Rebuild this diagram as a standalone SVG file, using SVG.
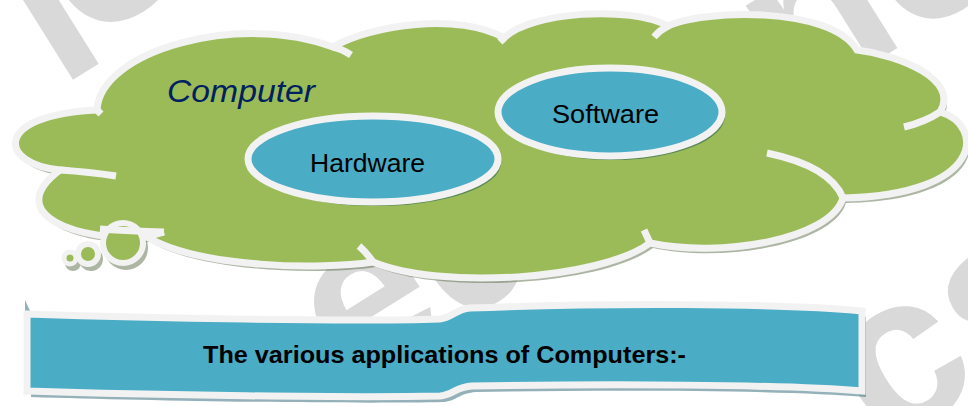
<svg xmlns="http://www.w3.org/2000/svg" width="968" height="406" viewBox="0 0 968 406">
<defs>
<style>
.wm{font-family:"Liberation Sans",Arial,sans-serif;font-weight:bold;font-size:220px;fill:#d9d9d9}
.ol{fill:none;stroke:#f2f2f2;stroke-width:7;stroke-linecap:butt}
.cloud{fill:#9bbb59;stroke:#f2f2f2;stroke-width:7;stroke-linejoin:miter}
.cshadow{fill:#5b6b47;opacity:0.5}
.oval{fill:#4bacc6;stroke:#f2f2f2;stroke-width:7}
.oshadow{fill:#4a7a55;opacity:0.8}
.lbl{font-family:"Liberation Sans",Arial,sans-serif;font-size:25px;fill:#000}
</style>
<path id="cloudPath" d="M97,110 C100,50 240,12 333,47 C370,25 460,12 504,38 C530,12 630,5 668,26 C700,10 830,5 857,50 C900,55 960,80 940,112 C985,125 985,195 843,198 C830,240 720,258 650,243 C600,280 440,290 373,262 C320,270 200,268 147,237 C80,242 0,215 60,170 C0,165 -10,115 97,110 Z"/>
<path id="bannerPath" d="M27,314 C150,318 350,322 440,319 C452,318 456,309 470,308 C600,303 780,303 862,311 L862,391 C780,384 600,384 472,386 C456,387 452,395 440,396 C350,398 150,395 27,391 Z"/>
</defs>
<rect width="968" height="406" fill="#ffffff"/>
<g id="watermark">
<text class="wm" x="60" y="88" transform="rotate(-32 60 88)">l</text>
<text class="wm" x="86" y="45" transform="rotate(-32 86 45)">o</text>
<text class="wm" x="350" y="392" transform="rotate(-32 350 392)">ed</text>
<text class="wm" x="795" y="112" transform="rotate(-32 795 112)">nc</text>
<text class="wm" x="883" y="450" transform="rotate(-32 883 450)">cs</text>
</g>
<g id="cloud">
<use href="#cloudPath" class="cshadow" transform="translate(3,5)"/>
<circle cx="126" cy="248" r="22" class="cshadow"/>
<circle cx="91" cy="259" r="12" class="cshadow"/>
<circle cx="73" cy="263" r="8" class="cshadow"/>
<use href="#cloudPath" class="cloud"/>
<path class="ol" d="M333,47 Q342,49 351,55"/>
<path class="ol" d="M97,110 L101,114"/>
<path class="ol" d="M60,170 Q90,172 116,176"/>
<path class="ol" d="M147,237 L164,232"/>
<path class="ol" d="M373,262 Q366,252 359,246"/>
<path class="ol" d="M650,243 L644,230"/>
<path class="ol" d="M843,198 C835,178 810,162 767,153"/>
<path class="ol" d="M940,112 Q925,122 904,127"/>
<path class="ol" d="M668,26 Q660,30 654,37"/>
<path class="ol" d="M504,38 L500,42"/>
<circle cx="123" cy="243" r="20" fill="#9bbb59" stroke="#f2f2f2" stroke-width="6"/>
<circle cx="88" cy="254" r="10" fill="#9bbb59" stroke="#f2f2f2" stroke-width="6"/>
<circle cx="70" cy="258" r="6" fill="#9bbb59" stroke="#f2f2f2" stroke-width="5"/>
<path class="ol" d="M100,229 Q130,231 164,232" stroke-width="6"/>
<text x="167" y="102" font-family="Liberation Sans, Arial, sans-serif" font-style="italic" font-size="31" fill="#002060" textLength="148" lengthAdjust="spacingAndGlyphs">Computer</text>
</g>
<g id="hardware">
<ellipse cx="376" cy="163" rx="125" ry="43" class="oshadow"/>
<ellipse cx="373" cy="159" rx="125" ry="43" class="oval"/>
<text class="lbl" x="310" y="172" textLength="115" lengthAdjust="spacingAndGlyphs">Hardware</text>
</g>
<g id="software">
<ellipse cx="613" cy="116" rx="112" ry="44" class="oshadow"/>
<ellipse cx="610" cy="112" rx="112" ry="44" class="oval"/>
<text class="lbl" x="552" y="123" textLength="107" lengthAdjust="spacingAndGlyphs">Software</text>
</g>
<g id="banner">
<polygon points="25,300 31,313 25,313" fill="#8fb0bc"/>
<use href="#bannerPath" fill="#3d6f80" opacity="0.55" transform="translate(4,6)"/>
<use href="#bannerPath" fill="#4bacc6" stroke="#f2f2f2" stroke-width="7"/>
<text x="203" y="363" font-family="Liberation Sans, Arial, sans-serif" font-weight="bold" font-size="24" fill="#000" textLength="483" lengthAdjust="spacingAndGlyphs">The various applications of Computers:-</text>
</g>
<g id="connectors"/>
</svg>
